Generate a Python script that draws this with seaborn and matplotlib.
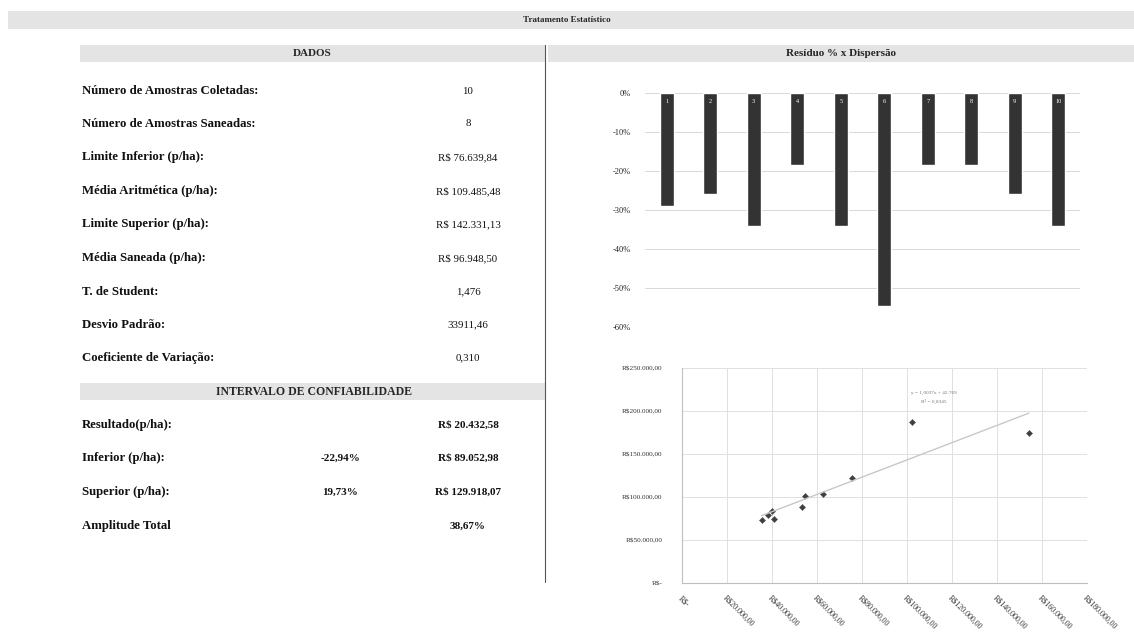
import numpy as np
import pandas as pd
import seaborn as sns
import matplotlib.pyplot as plt
from matplotlib.patches import Rectangle
from matplotlib.ticker import FuncFormatter, MultipleLocator

# Dados da tabela
dados_labels = ['Número de Amostras Coletadas:', 'Número de Amostras Saneadas:',
                'Limite Inferior (p/ha):', 'Média Aritmética (p/ha):',
                'Limite Superior (p/ha):', 'Média Saneada (p/ha):',
                'T. de Student:', 'Desvio Padrão:', 'Coeficiente de Variação:']
dados_values = ['10', '8', 'R$ 76.639,84', 'R$ 109.485,48', 'R$ 142.331,13',
                'R$ 96.948,50', '1,476', '33911,46', '0,310']

intervalo_labels = ['Resultado(p/ha):', 'Inferior (p/ha):', 'Superior (p/ha):', 'Amplitude Total']
intervalo_pct = ['', '-22,94%', '19,73%', '']
intervalo_values = ['R$ 20.432,58', 'R$ 89.052,98', 'R$ 129.918,07', '38,67%']

# Residuo % por amostra
amostras = ['1', '2', '3', '4', '5', '6', '7', '8', '9', '10']
residuo = [-29.1, -26.0, -34.0, -18.5, -34.0, -54.7, -18.5, -18.5, -26.0, -34.0]

# Dispersao
disp_x = [35400, 38200, 40000, 40900, 53300, 54700, 62700, 75600, 102200, 154200]
disp_y = [73300, 79100, 83700, 74400, 88400, 101200, 103500, 122100, 187200, 174400]

sns.set_style('white')
plt.rcParams['font.family'] = ['Liberation Serif', 'DejaVu Serif']

W, H = 1134, 643
fig = plt.figure(figsize=(W / 100, H / 100), dpi=100)

######################################## Fundo / tabela ########################################

bg = fig.add_axes([0, 0, 1, 1])
bg.set_xlim(0, W)
bg.set_ylim(H, 0)
bg.axis('off')

band = '#e4e4e4'
bg.add_patch(Rectangle((8, 11), W - 8, 18, color=band, lw=0))
bg.add_patch(Rectangle((80, 45), 465, 17, color=band, lw=0))
bg.add_patch(Rectangle((548, 45), W - 548, 17, color=band, lw=0))
bg.add_patch(Rectangle((80, 383), 465, 17, color=band, lw=0))
bg.plot([545, 545], [45, 582], color='#555555', lw=0.8)

bg.text(567, 20, 'Tratamento Estatístico', ha='center', va='center', fontsize=6.5, fontweight='bold')
bg.text(312, 54, 'DADOS', ha='center', va='center', fontsize=8, fontweight='bold')
bg.text(841, 54, 'Resíduo % x Dispersão', ha='center', va='center', fontsize=8, fontweight='bold')
bg.text(314, 392, 'INTERVALO DE CONFIABILIDADE', ha='center', va='center', fontsize=8.5, fontweight='bold')

row_y = [91, 124, 157, 191, 224, 258, 292, 325, 358]
for y, lab, val in zip(row_y, dados_labels, dados_values):
    bg.text(82, y, lab, ha='left', va='center', fontsize=9.2, fontweight='bold', color='#111111')
    bg.text(468, y, val, ha='center', va='center', fontsize=7.8, color='#111111')

row_y2 = [425, 458, 492, 526]
for y, lab, pct, val in zip(row_y2, intervalo_labels, intervalo_pct, intervalo_values):
    bg.text(82, y, lab, ha='left', va='center', fontsize=9.2, fontweight='bold', color='#111111')
    bg.text(340, y, pct, ha='center', va='center', fontsize=8, fontweight='bold', color='#111111')
    bg.text(468, y, val, ha='center', va='center', fontsize=8, fontweight='bold', color='#111111')

######################################## Residuo % ########################################

ax1 = fig.add_axes([645 / W, (H - 327) / H, 435 / W, 234 / H])
res_df = pd.DataFrame({'Amostra': amostras, 'Residuo': residuo})
sns.barplot(data=res_df, x='Amostra', y='Residuo', color='#333333', width=0.32,
            saturation=1, ax=ax1)
for i, a in enumerate(amostras):
    ax1.text(i, -2.2, a, ha='center', va='center', color='white', fontsize=4.5)
ax1.set_xlim(-0.5, 9.5)
ax1.set_ylim(-60, 0)
ax1.yaxis.set_major_locator(MultipleLocator(10))
ax1.yaxis.set_major_formatter(FuncFormatter(lambda v, p: f'{v:.0f}%'))
ax1.grid(axis='y', color='#d9d9d9', lw=0.7)
ax1.set_axisbelow(True)
ax1.set_xticks([])
ax1.set_xlabel('')
ax1.set_ylabel('')
ax1.tick_params(axis='y', labelsize=6, length=0, pad=10, colors='#222222')
sns.despine(ax=ax1, left=True, bottom=True)

######################################## Dispersao ########################################

def reais(v, p=None):
    if abs(v) < 1:
        return 'R$-'
    s = f'{v:,.2f}'.replace(',', '#').replace('.', ',').replace('#', '.')
    return 'R$' + s

ax2 = fig.add_axes([682 / W, (H - 583) / H, 405 / W, 215 / H])
disp_df = pd.DataFrame({'x': disp_x, 'y': disp_y})
sns.regplot(data=disp_df, x='x', y='y', ci=None, scatter=False, truncate=True,
            line_kws={'color': '#c8c8c8', 'lw': 1}, ax=ax2)
sns.scatterplot(data=disp_df, x='x', y='y', marker='D', s=10, color='#404040',
                edgecolor='#404040', ax=ax2)

a, b = np.polyfit(disp_x, disp_y, 1)
r2 = np.corrcoef(disp_x, disp_y)[0, 1] ** 2
eq = f'y = {a:.4f}x + {b:,.0f}'.replace(',', '#').replace('.', ',').replace('#', '.')
ax2.text(112000, 221000, eq, ha='center', va='center', fontsize=3.8, color='#777777')
ax2.text(112000, 211500, f'R² = {r2:.4f}'.replace('.', ','), ha='center', va='center',
         fontsize=3.8, color='#777777')

ax2.set_xlim(0, 180000)
ax2.set_ylim(0, 250000)
ax2.xaxis.set_major_locator(MultipleLocator(20000))
ax2.yaxis.set_major_locator(MultipleLocator(50000))
ax2.xaxis.set_major_formatter(FuncFormatter(reais))
ax2.yaxis.set_major_formatter(FuncFormatter(reais))
ax2.grid(True, color='#e0e0e0', lw=0.7)
ax2.set_axisbelow(True)
ax2.set_xlabel('')
ax2.set_ylabel('')
for s in ['top', 'right']:
    ax2.spines[s].set_visible(False)
for s in ['left', 'bottom']:
    ax2.spines[s].set_color('#bfbfbf')
    ax2.spines[s].set_linewidth(0.8)
ax2.tick_params(axis='y', labelsize=5.2, length=0, colors='#333333', pad=14)
ax2.tick_params(axis='x', labelsize=5.8, length=0, colors='#333333', pad=8)
plt.setp(ax2.get_xticklabels(), rotation=-45, ha='left', rotation_mode='anchor')

fig.savefig('out.png', dpi=100, facecolor='white')
